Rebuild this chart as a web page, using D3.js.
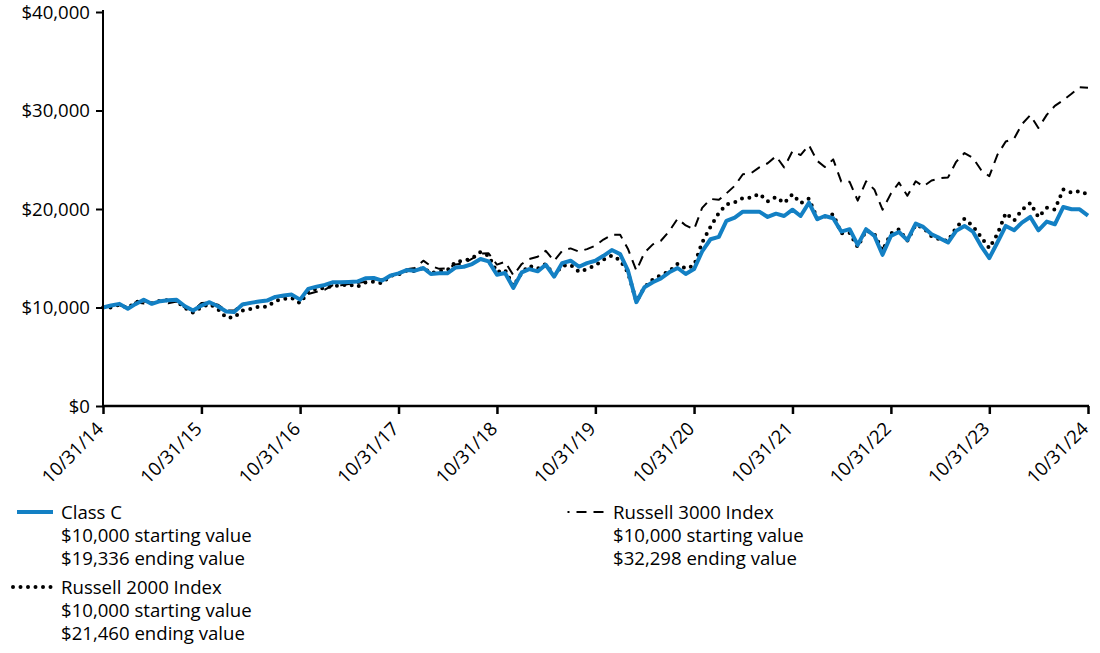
<!DOCTYPE html>
<html>
<head>
<meta charset="utf-8">
<script src="https://cdn.jsdelivr.net/npm/d3@7"></script>
<style>
  html, body { margin: 0; padding: 0; background: #fff; }
  svg { display: block; font-family: "Open Sans", "Noto Sans", sans-serif; }
</style>
</head>
<body>
<svg id="chart" width="1100" height="653"></svg>
<script>
// ---- data (month-end values, 10/31/14 .. 10/31/24) ----
const startMonth = { year: 2014, month: 10 }; // October 2014 (month-end)
const monthCount = 121;

const classC = [
  10000,10200,10370,9870,10340,10780,10370,10640,10740,10780,10130,9700,
  10200,10540,10130,9600,9530,10300,10470,10600,10700,11080,11210,11310,
  10800,11890,12120,12290,12560,12560,12600,12630,12960,13000,12730,13230,
  13470,13800,13740,14010,13400,13470,13470,14070,14140,14410,14920,14680,
  13330,13500,11990,13570,13900,13670,14340,13130,14510,14750,14140,14510,
  14750,15250,15830,15420,13740,10540,12050,12560,12960,13570,14010,13400,
  13900,15700,16930,17170,18790,19120,19730,19730,19730,19190,19530,19290,
  19930,19290,20640,18960,19290,19060,17710,17950,16360,17950,17270,15350,
  17270,17660,16840,18520,18180,17440,17040,16600,17780,18280,17710,16260,
  15020,16600,18280,17840,18620,19190,17840,18720,18450,20200,19970,19970,
  19336
];

const russell2000 = [
  10000,10000,10280,9950,10540,10720,10440,10680,10755,10625,9955,9470,
  10030,10360,9845,8980,8975,9695,9850,10075,10065,10670,10860,10980,
  10445,11600,11930,11975,12200,12215,12350,12100,12525,12610,12445,13215,
  13360,13750,13690,14045,13500,13675,13800,14640,14745,14995,15640,15265,
  13600,13820,12175,13535,14240,13940,14415,13290,14235,14320,13620,13905,
  14270,14855,15285,14795,13550,10610,12065,12850,13300,13670,14435,13960,
  14260,16600,18200,19600,20465,20670,21100,21145,21545,20770,21225,20610,
  21500,20595,21050,19030,19240,19470,17540,17575,16135,17815,17460,15780,
  17525,17930,16765,18410,18095,17225,16915,16760,18120,19000,18265,17185,
  16020,17460,19590,18825,19900,20615,19170,20130,19950,21980,21650,21800,
  21460
];

const russell3000 = [
  10000,10240,10230,9945,10520,10415,10465,10610,10430,10610,9970,9680,
  10445,10505,10285,9710,9700,10380,10440,10630,10650,11075,11110,11130,
  10885,11375,11590,11810,12250,12260,12395,12495,12605,12845,12870,13180,
  13470,13875,14015,14755,14210,13925,13980,14370,14470,14950,15470,15500,
  14355,14640,13280,14420,14925,15150,15755,14730,15760,16000,15680,15930,
  16280,16900,17390,17375,15950,13750,15565,16405,16780,17740,19015,18330,
  17925,20115,21020,20935,21585,22360,23525,23640,24230,24645,25360,24220,
  25865,25475,26470,24880,24260,25035,22780,22760,20850,22810,21965,19925,
  21560,22680,21340,22815,22290,22890,23120,23210,24790,25680,25190,23980,
  23330,25500,26850,27145,28610,29525,28225,29555,30470,31050,31700,32365,
  32298
];

const xTickLabels = ["10/31/14","10/31/15","10/31/16","10/31/17","10/31/18","10/31/19",
                     "10/31/20","10/31/21","10/31/22","10/31/23","10/31/24"];
const yTickValues = [0, 10000, 20000, 30000, 40000];

const seriesNames = ["Class C", "Russell 2000 Index", "Russell 3000 Index"];
const startingLabels = ["$10,000 starting value", "$10,000 starting value", "$10,000 starting value"];
const endingLabels = ["$19,336 ending value", "$21,460 ending value", "$32,298 ending value"];

// ---- layout ----
const svg = d3.select("#chart");
const plot = { left: 103, right: 1088, top: 12, bottom: 406 };
const blue = "#1380c4";
const fontSize = 18.6;

const dates = d3.range(monthCount).map(i => new Date(startMonth.year, startMonth.month + i, 0));
const parse = d3.timeParse("%m/%d/%y");
const tickDates = xTickLabels.map(parse);

const x = d3.scaleTime().domain([dates[0], dates[dates.length - 1]]).range([plot.left, plot.right]);
const y = d3.scaleLinear().domain([0, 40000]).range([plot.bottom, plot.top]);

const line = d3.line().x((d, i) => x(dates[i])).y(d => y(d));

// series (dashed bottom, dotted, blue on top)
svg.append("path").datum(russell3000)
  .attr("d", line).attr("fill", "none").attr("stroke", "#000")
  .attr("stroke-width", 2).attr("stroke-dasharray", "10,7")
  .attr("stroke-linejoin", "round");

svg.append("path").datum(russell2000)
  .attr("d", line).attr("fill", "none").attr("stroke", "#000")
  .attr("stroke-width", 4).attr("stroke-dasharray", "0,7.5")
  .attr("stroke-linecap", "round").attr("stroke-linejoin", "round");

svg.append("path").datum(classC)
  .attr("d", line).attr("fill", "none").attr("stroke", blue)
  .attr("stroke-width", 4).attr("stroke-linejoin", "round");

// axes
const fmt = d => "$" + d3.format(",")(d);
const yAxis = svg.append("g").attr("transform", `translate(${plot.left},0)`)
  .call(d3.axisLeft(y).tickValues(yTickValues).tickFormat(fmt).tickSizeOuter(0).tickSize(7).tickPadding(6));
yAxis.select(".domain").attr("stroke", "#000").attr("stroke-width", 2)
  .attr("d", `M0,${plot.bottom}V${plot.top - 2}`);
yAxis.selectAll(".tick line").attr("stroke", "#000").attr("stroke-width", 2);
yAxis.selectAll(".tick text").attr("font-size", fontSize).attr("fill", "#000")
  .attr("font-family", "'Open Sans', sans-serif").attr("dy", "0.34em");

const xAxis = svg.append("g").attr("transform", `translate(0,${plot.bottom})`)
  .call(d3.axisBottom(x).tickValues(tickDates).tickFormat((d, i) => xTickLabels[i]).tickSizeOuter(0).tickSize(8));
xAxis.select(".domain").attr("stroke", "#000").attr("stroke-width", 2.5)
  .attr("d", `M${plot.left - 1},0H${plot.right + 1}`);
xAxis.selectAll(".tick line").attr("stroke", "#000").attr("stroke-width", 2.5);
xAxis.selectAll(".tick text")
  .attr("font-size", fontSize).attr("fill", "#000")
  .attr("font-family", "'Open Sans', sans-serif")
  .attr("text-anchor", "end")
  .attr("y", 0).attr("dy", 0)
  .attr("transform", "translate(1,24) rotate(-45)");

// legend
const legend = svg.append("g").attr("font-size", fontSize).attr("fill", "#000");
const legendItems = [
  { sx: 17, ex: 53, lx: 61, ly: 512, type: "solid" },
  { sx: 13, ex: 53, lx: 61, ly: 587, type: "dot" },
  { sx: 567.5, ex: 605, lx: 613, ly: 512, type: "dash" }
];
legendItems.forEach((it, k) => {
  const l = legend.append("line").attr("x1", it.sx).attr("x2", it.ex)
    .attr("y1", it.ly).attr("y2", it.ly).attr("fill", "none");
  if (it.type === "solid") l.attr("stroke", blue).attr("stroke-width", 4);
  if (it.type === "dot") l.attr("stroke", "#000").attr("stroke-width", 4)
    .attr("stroke-dasharray", "0,7.5").attr("stroke-linecap", "round");
  if (it.type === "dash") l.attr("stroke", "#000").attr("stroke-width", 2)
    .attr("stroke-dasharray", "10,7").attr("stroke-dashoffset", 8);
  const lines = [seriesNames[k], startingLabels[k], endingLabels[k]];
  lines.forEach((t, j) => {
    legend.append("text").attr("x", it.lx).attr("y", it.ly + 7 + j * 23).text(t);
  });
});
</script>
</body>
</html>
